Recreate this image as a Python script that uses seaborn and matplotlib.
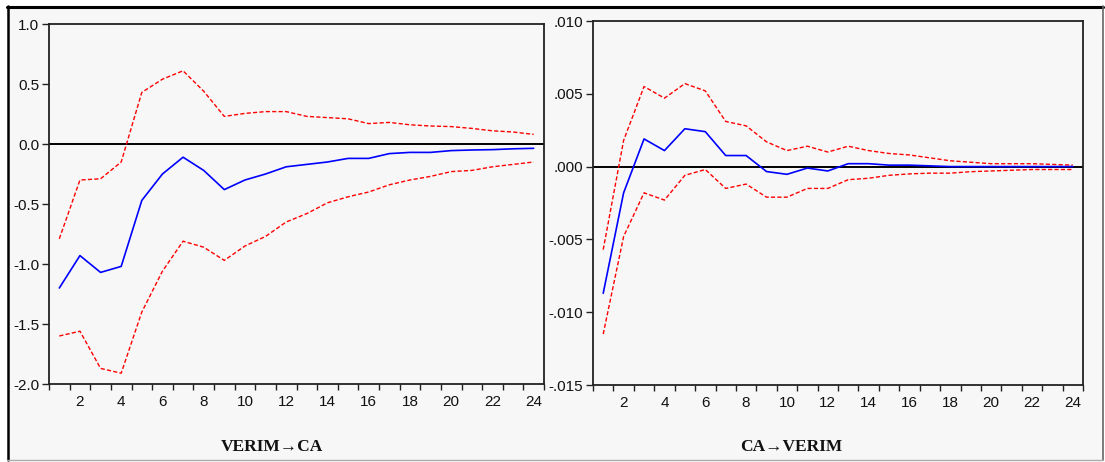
import numpy as np
import pandas as pd
import matplotlib
matplotlib.use("Agg")
import matplotlib.pyplot as plt
from matplotlib.lines import Line2D
from matplotlib.patches import Rectangle
from matplotlib.ticker import FuncFormatter, MultipleLocator
import seaborn as sns

# ── DATA ───────────────────────────────────────────────
periods = list(range(1, 25))

# VERIM -> CA response
left_resp = [-1.20, -0.93, -1.07, -1.02, -0.47, -0.25, -0.11, -0.22, -0.38, -0.30,
             -0.25, -0.19, -0.17, -0.15, -0.12, -0.12, -0.08, -0.07, -0.07, -0.055,
             -0.05, -0.047, -0.04, -0.036]
left_upper = [-0.79, -0.30, -0.29, -0.15, 0.43, 0.54, 0.61, 0.44, 0.23, 0.255,
              0.27, 0.27, 0.23, 0.22, 0.21, 0.17, 0.18, 0.16, 0.15, 0.145,
              0.13, 0.11, 0.10, 0.08]
left_lower = [-1.60, -1.56, -1.87, -1.91, -1.40, -1.06, -0.81, -0.86, -0.97, -0.85,
              -0.77, -0.65, -0.58, -0.49, -0.44, -0.40, -0.34, -0.30, -0.27, -0.23,
              -0.22, -0.19, -0.17, -0.15]

# CA -> VERIM response
right_resp = [-0.0087, -0.0018, 0.0019, 0.0011, 0.0026, 0.0024, 0.00076, 0.00076, -0.00034, -0.00053,
              -0.0001, -0.0003, 0.0002, 0.0002, 0.0001, 0.0001, 0.00005, 0.0, 0.0, 0.0,
              0.0, 0.0, 0.0, 0.0]
right_upper = [-0.0057, 0.0018, 0.0055, 0.0047, 0.0057, 0.0052, 0.0031, 0.0028, 0.0017, 0.0011,
               0.0014, 0.0010, 0.0014, 0.0011, 0.0009, 0.0008, 0.0006, 0.0004, 0.0003, 0.0002,
               0.0002, 0.0002, 0.00015, 0.0001]
right_lower = [-0.0115, -0.0048, -0.0018, -0.0023, -0.0006, -0.0002, -0.0015, -0.0012, -0.0021, -0.0021,
               -0.0015, -0.0015, -0.0009, -0.0008, -0.0006, -0.0005, -0.00045, -0.00045, -0.00035, -0.0003,
               -0.00025, -0.0002, -0.0002, -0.0002]

left_title = "VERIM\u2192CA"
right_title = "CA\u2192VERIM"
left_yticks = [1.0, 0.5, 0.0, -0.5, -1.0, -1.5, -2.0]
right_yticks = [0.010, 0.005, 0.000, -0.005, -0.010, -0.015]
xtick_labels = list(range(2, 25, 2))

left_df = pd.DataFrame({"period": periods, "resp": left_resp, "upper": left_upper, "lower": left_lower})
right_df = pd.DataFrame({"period": periods, "resp": right_resp, "upper": right_upper, "lower": right_lower})

# ── STYLE ──────────────────────────────────────────────
sns.set_style("white")
plt.rcParams['font.family'] = ['Liberation Sans', 'DejaVu Sans']

W, H = 1105, 462
bg = '#f7f7f7'
fig = plt.figure(figsize=(W / 100, H / 100), dpi=100)
fig.patch.set_facecolor('white')

# outer frame
fig.patches.append(Rectangle((7 / W, 1 - 460 / H), 1096 / W, 454 / H, transform=fig.transFigure,
                             facecolor=bg, edgecolor='none', zorder=-10))
fig.lines.append(Line2D([7 / W, 1103 / W], [1 - 6.5 / H, 1 - 6.5 / H], transform=fig.transFigure, color='black', lw=2.2))
fig.lines.append(Line2D([7.5 / W, 7.5 / W], [1 - 6 / H, 1 - 460 / H], transform=fig.transFigure, color='black', lw=1.8))
fig.lines.append(Line2D([1103 / W, 1103 / W], [1 - 6 / H, 1 - 460 / H], transform=fig.transFigure, color='#666666', lw=1.2))
fig.lines.append(Line2D([7 / W, 1103 / W], [1 - 460 / H, 1 - 460 / H], transform=fig.transFigure, color='#aaaaaa', lw=1.0))

ax1 = fig.add_axes([49 / W, 1 - 384 / H, 495 / W, 360 / H])
ax2 = fig.add_axes([593 / W, 1 - 385 / H, 490 / W, 364 / H])


def draw_panel(ax, df, ylim, yticks, fmt):
    ax.set_facecolor(bg)
    ax.axhline(0, color='black', lw=1.4, zorder=1)
    sns.lineplot(data=df, x='period', y='upper', ax=ax, color='#ff0000', lw=1.0,
                 linestyle=(0, (3, 1.6)), zorder=2)
    sns.lineplot(data=df, x='period', y='lower', ax=ax, color='#ff0000', lw=1.0,
                 linestyle=(0, (3, 1.6)), zorder=2)
    sns.lineplot(data=df, x='period', y='resp', ax=ax, color='#0000ff', lw=1.2, zorder=3)
    ax.set_xlim(0.5, 24.5)
    ax.set_ylim(*ylim)
    ax.set_yticks(yticks)
    ax.yaxis.set_major_formatter(FuncFormatter(fmt))
    ax.set_xticks(xtick_labels)
    ax.xaxis.set_minor_locator(MultipleLocator(1, offset=0.5))
    ax.tick_params(axis='x', which='major', length=0, pad=8, labelsize=11, labelcolor='#111111')
    ax.tick_params(axis='x', which='minor', bottom=True, length=4, width=1, color='#222222', direction='out')
    ax.tick_params(axis='y', which='major', left=True, length=5, width=1, color='#222222',
                   direction='out', pad=2, labelsize=11, labelcolor='#111111')
    ax.set_xlabel('')
    ax.set_ylabel('')
    for s in ax.spines.values():
        s.set_visible(True)
        s.set_color('#222222')
        s.set_linewidth(1.3)


draw_panel(ax1, left_df, (-2.0, 1.0), left_yticks, lambda v, p: f"{v:.1f}")


def short_fmt(v, p):
    s = f"{v:.3f}"
    if abs(v) < 1e-12:
        return ".000"
    return s.replace("0.", ".", 1)


draw_panel(ax2, right_df, (-0.015, 0.010), right_yticks, short_fmt)

title_font = dict(family=['Liberation Serif', 'DejaVu Serif'], fontsize=12.5, fontweight='bold', color='#111111')
fig.text(272 / W, 1 - 447 / H, left_title, ha='center', va='center', **title_font)
fig.text(791 / W, 1 - 447 / H, right_title, ha='center', va='center', **title_font)

plt.savefig('out.png', dpi=100, facecolor=fig.get_facecolor())
